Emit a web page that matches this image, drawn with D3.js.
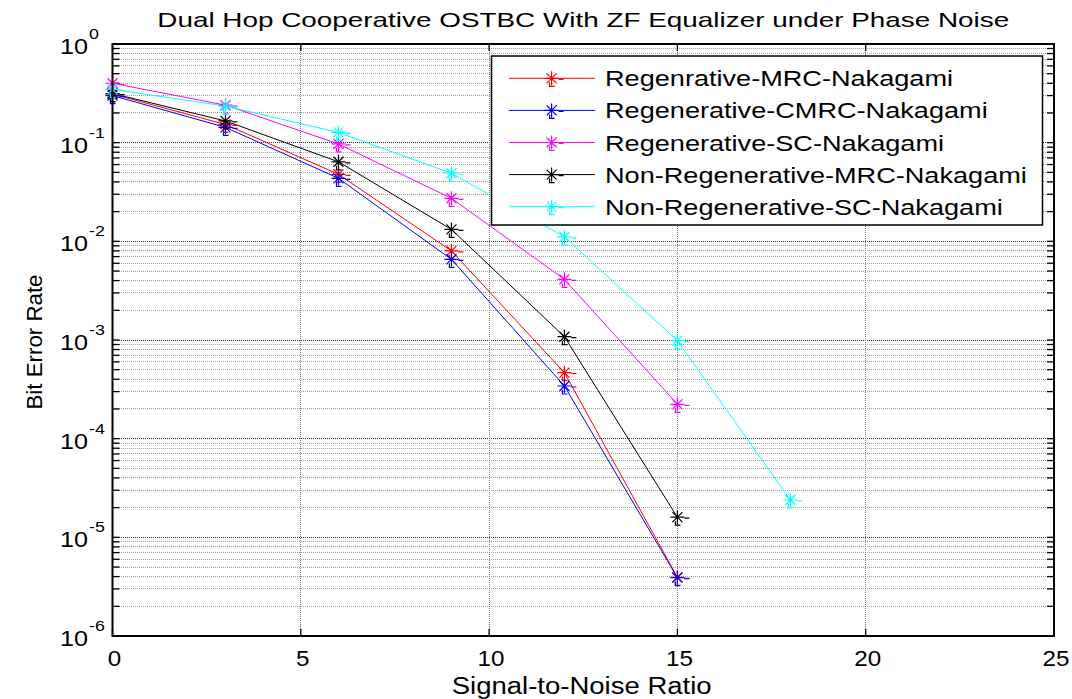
<!DOCTYPE html>
<html>
<head>
<meta charset="utf-8">
<script src="https://cdn.jsdelivr.net/npm/d3@7"></script>
<style>
  body { margin: 0; background: #fff; }
  svg { display: block; }
  text { font-family: "Liberation Sans", Arial, Helvetica, sans-serif; fill: #000; }
</style>
</head>
<body>
<svg id="chart" width="1072" height="699"></svg>
<script>
// SNR points (dB)
const snr = [0, 3, 6, 9, 12, 15];
const snrExt = [0, 3, 6, 9, 12, 15, 18];

// Bit error rate per scheme
const berRegMRC     = [0.311, 0.153, 0.0478, 0.0080, 0.000467, 3.94e-6];
const berRegCMRC    = [0.300, 0.143, 0.0435, 0.00657, 0.000342, 3.9e-6];
const berRegSC      = [0.40, 0.24, 0.097, 0.0273, 0.00412, 0.000223];
const berNonRegMRC  = [0.315, 0.166, 0.064, 0.0132, 0.00108, 1.6e-5];
const berNonRegSC   = [0.347, 0.235, 0.127, 0.049, 0.0111, 0.000985, 2.39e-5];

const seriesNames = [
  "Regenrative-MRC-Nakagami",
  "Regenerative-CMRC-Nakagami",
  "Regenerative-SC-Nakagami",
  "Non-Regenerative-MRC-Nakagami",
  "Non-Regenerative-SC-Nakagami"
];
const seriesColors = ["#ff0000", "#0000ff", "#ff00ff", "#000000", "#00ffff"];

const xTicks = [0, 5, 10, 15, 20, 25];
const yExponents = [0, -1, -2, -3, -4, -5, -6];

const titleText = "Dual Hop Cooperative OSTBC With ZF Equalizer under Phase Noise";
const xLabelText = "Signal-to-Noise Ratio";
const yLabelText = "Bit Error Rate";

// ---- layout ----
const plot = { left: 112.5, right: 1054, top: 44, bottom: 636 };
const svg = d3.select("#chart");

const x = d3.scaleLinear().domain([0, 25]).range([plot.left, plot.right]);
const y = d3.scaleLog().domain([1e-6, 1]).range([plot.bottom, plot.top]);

const series = [
  { name: seriesNames[0], color: seriesColors[0], xs: snr,    ys: berRegMRC },
  { name: seriesNames[1], color: seriesColors[1], xs: snr,    ys: berRegCMRC },
  { name: seriesNames[2], color: seriesColors[2], xs: snr,    ys: berRegSC },
  { name: seriesNames[3], color: seriesColors[3], xs: snr,    ys: berNonRegMRC },
  { name: seriesNames[4], color: seriesColors[4], xs: snrExt, ys: berNonRegSC }
];

// stretch text horizontally by factor k (or to an absolute width)
function stretch(sel, k) {
  sel.each(function () {
    const len = this.getComputedTextLength();
    d3.select(this).attr("textLength", len * k).attr("lengthAdjust", "spacingAndGlyphs");
  });
}
function fitWidth(sel, w) {
  sel.attr("textLength", w).attr("lengthAdjust", "spacingAndGlyphs");
}

// ---- grid ----
const grid = svg.append("g");
const minorVals = [];
for (let e = -6; e < 0; e++) {
  for (let m = 2; m <= 9; m++) minorVals.push(m * Math.pow(10, e));
}
grid.selectAll("line.minor").data(minorVals).join("line")
  .attr("x1", plot.left).attr("x2", plot.right)
  .attr("y1", d => y(d)).attr("y2", d => y(d))
  .attr("stroke", "#a0a0a0").attr("stroke-width", 1).attr("stroke-dasharray", "1,1")
  .attr("shape-rendering", "crispEdges");
grid.selectAll("line.major").data(yExponents.slice(1, -1)).join("line")
  .attr("x1", plot.left).attr("x2", plot.right)
  .attr("y1", d => y(Math.pow(10, d))).attr("y2", d => y(Math.pow(10, d)))
  .attr("stroke", "#333").attr("stroke-width", 1).attr("stroke-dasharray", "1,1")
  .attr("shape-rendering", "crispEdges");
grid.selectAll("line.vx").data(xTicks.slice(1, -1)).join("line")
  .attr("x1", d => x(d)).attr("x2", d => x(d))
  .attr("y1", plot.top).attr("y2", plot.bottom)
  .attr("stroke", "#777").attr("stroke-width", 1).attr("stroke-dasharray", "1,1")
  .attr("shape-rendering", "crispEdges");

// ---- ticks (inward, on all four sides) ----
const ticks = svg.append("g").attr("stroke", "#000").attr("stroke-width", 1.3);
const tl = 7;
xTicks.forEach(v => {
  ticks.append("line").attr("x1", x(v)).attr("x2", x(v)).attr("y1", plot.bottom).attr("y2", plot.bottom - tl);
  ticks.append("line").attr("x1", x(v)).attr("x2", x(v)).attr("y1", plot.top).attr("y2", plot.top + tl);
});
const allY = minorVals.concat(yExponents.map(e => Math.pow(10, e)));
allY.forEach(v => {
  ticks.append("line").attr("x1", plot.left).attr("x2", plot.left + tl).attr("y1", y(v)).attr("y2", y(v));
  ticks.append("line").attr("x1", plot.right).attr("x2", plot.right - tl).attr("y1", y(v)).attr("y2", y(v));
});

// ---- series lines ----
const line = d3.line().x(d => x(d[0])).y(d => y(d[1]));
const lines = svg.append("g");
series.forEach(s => {
  lines.append("path")
    .datum(s.xs.map((v, i) => [v, s.ys[i]]))
    .attr("d", line)
    .attr("fill", "none")
    .attr("stroke", s.color)
    .attr("stroke-width", 1);
});

// asterisk marker with small trailing strokes
function star(g, cx, cy, color) {
  const r = 7, d = 5;
  const p = `M${cx - r},${cy}H${cx + r}M${cx},${cy - r}V${cy + r}` +
            `M${cx - d},${cy - d}L${cx + d},${cy + d}M${cx - d},${cy + d}L${cx + d},${cy - d}` +
            `M${cx + 7},${cy + 1}H${cx + 12}` +
            `M${cx - 2},${cy + 4}V${cy + 8}H${cx + 3}`;
  g.append("path").attr("d", p).attr("fill", "none").attr("stroke", color).attr("stroke-width", 1.2);
}
const marks = svg.append("g");
series.forEach(s => {
  s.xs.forEach((v, i) => star(marks, x(v), y(s.ys[i]), s.color));
});

// ---- axes box ----
svg.append("rect")
  .attr("x", plot.left).attr("y", plot.top)
  .attr("width", plot.right - plot.left).attr("height", plot.bottom - plot.top)
  .attr("fill", "none").attr("stroke", "#000").attr("stroke-width", 2);

// ---- tick labels ----
const xl = svg.append("g").selectAll("text").data(xTicks).join("text")
  .attr("x", d => x(d) + 2).attr("y", plot.bottom + 30)
  .attr("text-anchor", "middle").attr("font-size", 22)
  .text(d => d);
stretch(xl, 1.1);

const yl = svg.append("g");
yExponents.forEach(e => {
  const yy = y(Math.pow(10, e));
  const base = yl.append("text").attr("x", 60).attr("y", yy + 10).attr("font-size", 22).text("10");
  fitWidth(base, 28);
  const ex = yl.append("text").attr("x", 89).attr("y", yy - 5).attr("font-size", 15.5).text(String(e));
  stretch(ex, 1.15);
});

// ---- titles ----
const tt = svg.append("text").attr("x", x(12.5)).attr("y", 27)
  .attr("text-anchor", "middle").attr("font-size", 21).text(titleText);
fitWidth(tt, 852);

const xt = svg.append("text").attr("x", 581.7).attr("y", 694)
  .attr("text-anchor", "middle").attr("font-size", 23).text(xLabelText);
fitWidth(xt, 260);

const yt = svg.append("text").attr("transform", "translate(42,342) rotate(-90)")
  .attr("text-anchor", "middle").attr("font-size", 22).text(yLabelText);
fitWidth(yt, 135);

// ---- legend ----
const lg = svg.append("g");
const box = { left: 491.5, right: 1042.5, top: 56, bottom: 225 };
lg.append("rect")
  .attr("x", box.left).attr("y", box.top)
  .attr("width", box.right - box.left).attr("height", box.bottom - box.top)
  .attr("fill", "#fff").attr("stroke", "#000").attr("stroke-width", 1.5);
const rowY = d3.scaleLinear().domain([0, series.length - 1]).range([78.3, 206.7]);
let legendK = null;
series.forEach((s, i) => {
  const cy = rowY(i);
  lg.append("line").attr("x1", 509).attr("x2", 595).attr("y1", cy).attr("y2", cy)
    .attr("stroke", s.color).attr("stroke-width", 1);
  star(lg, 551.6, cy, s.color);
  const t = lg.append("text").attr("x", 605).attr("y", cy + 8).attr("font-size", 22.5).text(s.name);
  if (legendK === null) legendK = 348 / t.node().getComputedTextLength();
  stretch(t, legendK);
});
</script>
</body>
</html>
